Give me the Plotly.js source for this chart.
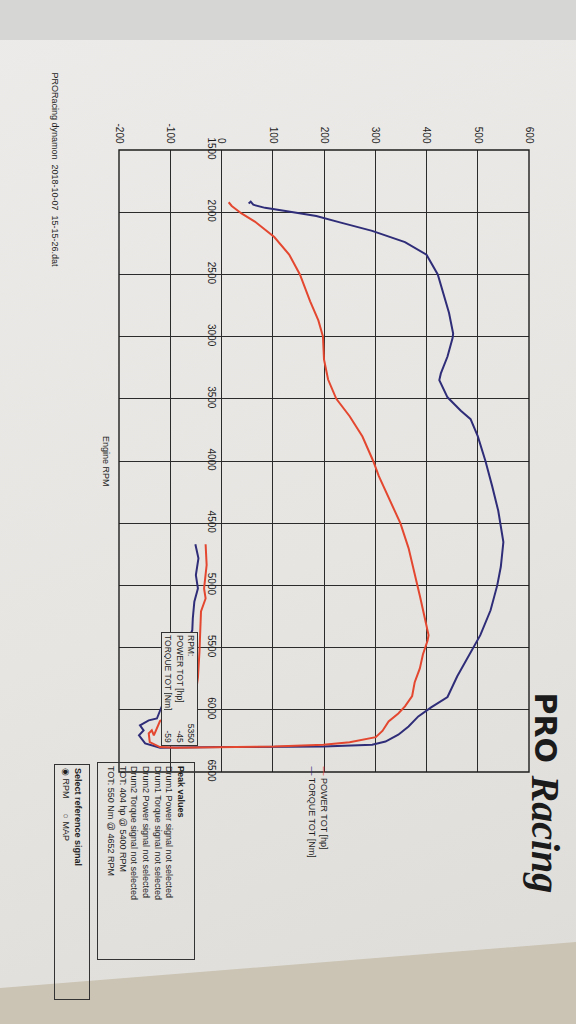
<!DOCTYPE html>
<html>
<head>
<meta charset="utf-8">
<script src="https://cdn.plot.ly/plotly-3.0.1.min.js"></script>
<style>
html,body{margin:0;padding:0;width:576px;height:1024px;overflow:hidden;
  background:linear-gradient(to bottom,#d6d6d5 0,#d6d6d5 40px,#cbc4b4 40px,#cbc4b4 100%);}
#paper{position:absolute;left:0;top:0;width:576px;height:1024px;
  background:linear-gradient(160deg,#ecebe9 0%,#e6e5e2 55%,#dedcd8 100%);
  clip-path:polygon(0 40px,576px 40px,576px 942px,0 988px);}
#chart{position:absolute;left:0;top:0;width:576px;height:1024px;}
</style>
</head>
<body>
<div id="paper"></div>
<div id="chart"></div>
<script>
// ---- data ----
const powerRpm = [1920,1950,2010,2075,2200,2340,2500,2716,2870,3000,3184,3345,3500,3640,3803,4000,4122,4290,4500,4700,4945,5083,5250,5400,5445,5555,5667,5778,5889,5972,6030,6094,6170,6220,6260,6280,6295,6300,6305,6300,6260,6190,6165,6205,6150,6090,5951,5844,5742,5532,5347,5210,5105,5024,4836,4669];
const powerHp  = [14,20,39,65,103,132,153,173,189,198,200,208,224,250,275,296,307,326,349,365,380,387,396,404,402,393,387,377,372,358,345,326,314,301,250,199,103,0,-90,-120,-140,-142,-136,-132,-126,-120,-53,-50,-46,-43,-42,-40,-31,-34,-29,-31];

const torqueRpm = [1930,1915,1940,1965,1990,2030,2082,2150,2240,2342,2500,2674,2810,2975,3010,3160,3296,3350,3488,3596,3664,3800,4000,4200,4400,4652,4850,5000,5200,5400,5535,5730,5897,5980,6053,6134,6200,6255,6280,6295,6300,6305,6270,6205,6165,6125,6085,6070,5360,5266,5131,5024,4917,4782,4669];
const torqueNm  = [53,57,62,85,125,185,231,294,358,400,422,435,444,452,451,441,428,425,441,467,486,500,515,528,540,550,545,538,525,505,486,460,441,409,384,365,345,320,294,199,0,-120,-149,-161,-152,-159,-142,-126,-57,-56,-53,-46,-50,-45,-51];

const valueTicks = [-200,-100,0,100,200,300,400,500,600];
const rpmTicks = [1500,2000,2500,3000,3500,4000,4500,5000,5500,6000,6500];

const seriesNames = ['POWER TOT [hp]','TORQUE TOT [Nm]'];
const peakLines = ['Peak values','Drum1 Power signal not selected','Drum1 Torque signal not selected','Drum2 Power signal not selected','Drum2 Torque signal not selected','TOT: 404 hp @ 5400 RPM','TOT: 550 Nm @ 4652 RPM'];
const cursor = {rpm:5350, power:-45, torque:-59};

// ---- layout helpers ----
const L=119, R=529, T=150, B=772;
const PX = x => (x-L)/(R-L);
const PY = y => (B-y)/(B-T);
const RED='#e4472f', BLUE='#2f2d78';
const FONT='Liberation Sans, Arial, sans-serif';

const traces = [
  {x:torqueNm, y:torqueRpm, mode:'lines', name:seriesNames[1], line:{color:BLUE,width:2}},
  {x:powerHp, y:powerRpm, mode:'lines', name:seriesNames[0], line:{color:RED,width:2}}
];

const ann = [];
function A(o){ ann.push(Object.assign({xref:'paper',yref:'paper',showarrow:false,textangle:90,
  font:{family:FONT,size:9,color:'#1e1e1e'}},o)); }

A({x:PX(54),y:PY(70),xanchor:'center',yanchor:'top',text:'PRORacing dynamon  2018-10-07  15-15-26.dat'});
A({x:PX(106),y:PY(461),xanchor:'center',yanchor:'middle',text:'Engine RPM'});

// cursor readout box
A({x:PX(180),y:PY(689),xanchor:'center',yanchor:'middle',width:108,height:31,align:'left',
   bordercolor:'#333',borderwidth:1,borderpad:2,bgcolor:'#e5e4e1',font:{family:FONT,size:8.5,color:'#1e1e1e'},
   text:'RPM:<br>POWER TOT [hp]<br>TORQUE TOT [Nm]'});
A({x:PX(180),y:PY(689),xanchor:'center',yanchor:'middle',width:108,height:31,align:'right',borderpad:3,
   font:{family:FONT,size:8.5,color:'#1e1e1e'},
   text:cursor.rpm+'<br>'+cursor.power+'<br>'+cursor.torque});

// legend
A({x:PX(318),y:PY(764),xanchor:'center',yanchor:'top',align:'left',
   text:'<span style="color:'+RED+'">—</span> '+seriesNames[0]+'<br><span style="color:'+BLUE+'">—</span> '+seriesNames[1]});

// peak values box
A({x:PX(146),y:PY(762),xanchor:'center',yanchor:'top',align:'left',width:190,height:90,
   bordercolor:'#333',borderwidth:1,borderpad:3,
   text:'<b>'+peakLines[0]+'</b><br>'+peakLines.slice(1).join('<br>')});

// reference signal box
A({x:PX(72),y:PY(764),xanchor:'center',yanchor:'top',align:'left',width:228,height:28,
   bordercolor:'#333',borderwidth:1,borderpad:3,
   text:'<b>Select reference signal</b><br>◉ RPM      ○ MAP'});

// logo
A({x:PX(545),y:PY(690),xanchor:'center',yanchor:'top',
   font:{family:'DejaVu Sans, sans-serif',size:30,color:'#1b1b1b'},text:'<b>PRO</b>'});
A({x:PX(545),y:PY(772),xanchor:'center',yanchor:'top',
   font:{family:'Liberation Serif, serif',size:40,color:'#1b1b1b'},text:'<b><i>Racing</i></b>'});

const layout = {
  width:576, height:1024,
  margin:{l:L, r:576-R, t:T, b:1024-B, pad:0},
  paper_bgcolor:'rgba(0,0,0,0)', plot_bgcolor:'rgba(0,0,0,0)',
  showlegend:false,
  xaxis:{range:[-200,600], tickvals:valueTicks, ticktext:valueTicks.map(String), side:'top', tickangle:90,
    showgrid:true, gridcolor:'#2b2b2b', gridwidth:1, zeroline:false, showline:false, ticks:'',
    ticklabelstandoff:4, tickfont:{family:FONT,size:10,color:'#1e1e1e'}, fixedrange:true},
  yaxis:{range:[6500,1500], tickvals:rpmTicks, ticktext:rpmTicks.map(String), tickangle:90,
    anchor:'free', position:0.25, side:'left',
    showgrid:true, gridcolor:'#2b2b2b', gridwidth:1, zeroline:false, showline:false, ticks:'',
    ticklabelstandoff:4, tickfont:{family:FONT,size:10,color:'#1e1e1e'}, fixedrange:true},
  shapes:[{type:'rect',xref:'paper',yref:'paper',x0:0,x1:1,y0:0,y1:1,line:{color:'#1e1e1e',width:1.4}}],
  annotations:ann
};

Plotly.newPlot('chart', traces, layout, {staticPlot:true, displayModeBar:false});
</script>
</body>
</html>
